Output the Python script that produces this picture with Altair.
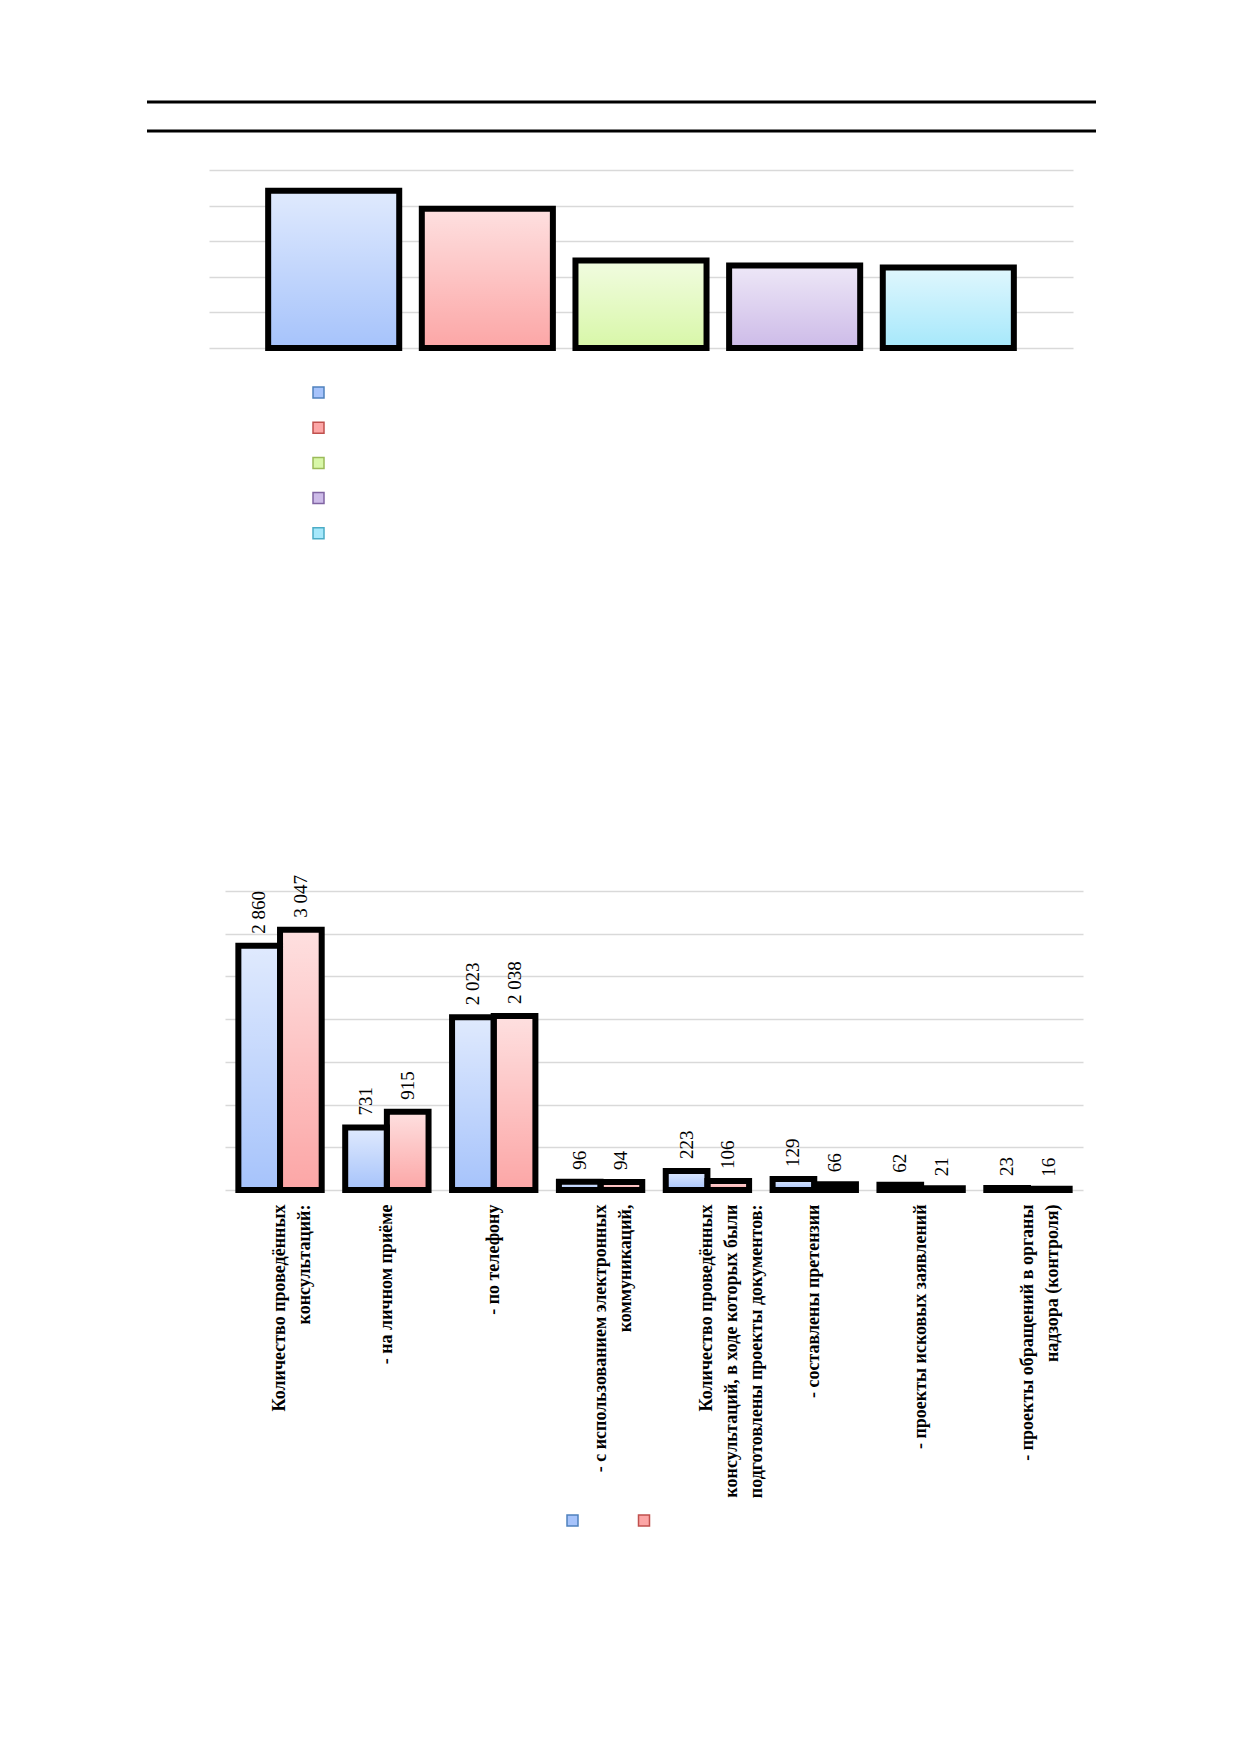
import altair as alt
import pandas as pd

# ---------------- data ----------------
# top chart (no value labels in the source, heights read from the gridlines)
top_series = ["Ряд 1", "Ряд 2", "Ряд 3", "Ряд 4", "Ряд 5"]
top_values = [4.42, 3.91, 2.46, 2.32, 2.26]
top_grid = [0, 1, 2, 3, 4, 5]

# bottom chart
categories = [
    "Количество проведённых|консультаций:",
    "- на личном приёме",
    "- по телефону",
    "- с использованием электронных|коммуникаций,",
    "Количество проведённых|консультаций, в ходе которых были|подготовлены проекты документов:",
    "- составлены претензии",
    "- проекты исковых  заявлений",
    "- проекты обращений в органы|надзора (контроля)",
]
series_names = ["Серия 1", "Серия 2"]
values_1 = [2860, 731, 2023, 96, 223, 129, 62, 23]
values_2 = [3047, 915, 2038, 94, 106, 66, 21, 16]
bottom_grid = [0, 500, 1000, 1500, 2000, 2500, 3000, 3500]

# colours
top_fill = ["#a6c3fb", "#fca6a6", "#d8f7a8", "#cdbbe8", "#a6e8fb"]
top_edge = ["#4f81bd", "#c0504d", "#9bbb59", "#8064a2", "#4bacc6"]
bottom_fill = ["#a6c3fb", "#fca6a6"]
bottom_edge = ["#4f81bd", "#c0504d"]
GRID = "#d9d9d9"


def centre_lines(label):
    # lines of a wrapped label are centred on each other (pad with no-break spaces)
    lines = label.split("|")
    m = max(len(s) for s in lines)
    return "|".join(s + "\u00a0" * (m - len(s)) for s in lines)


category_labels = [centre_lines(c) for c in categories]

shine = alt.Gradient(
    gradient="linear",
    stops=[
        alt.GradientStop(color="rgba(255,255,255,0.65)", offset=0),
        alt.GradientStop(color="rgba(255,255,255,0)", offset=1),
    ],
    x1=0, x2=0, y1=0, y2=1,
)

# ---------------- decorative double rule ----------------
rules_df = pd.DataFrame({"k": [0, 1]})
rules = (
    alt.Chart(rules_df)
    .mark_rule(color="black", strokeWidth=3)
    .encode(
        y=alt.Y("k:Q", scale=alt.Scale(domain=[0, 1]), axis=None),
        x=alt.value(-62),
        x2=alt.value(887),
    )
    .properties(width=864, height=29)
)

# ---------------- top chart ----------------
dtop = pd.DataFrame({"series": top_series, "value": top_values})
xt = alt.X("series:N", sort=top_series,
           scale=alt.Scale(paddingInner=0.147, paddingOuter=0.385), axis=None)
yt = alt.Y("value:Q", scale=alt.Scale(domain=[0, 5], nice=False),
           axis=alt.Axis(values=top_grid, grid=True, labels=False, ticks=False,
                         domain=False, title=None, minExtent=0, maxExtent=0,
                         gridColor=GRID, gridWidth=1.5))
leg_top = alt.Legend(title=None, orient="none", legendX=103, legendY=216,
                     direction="vertical", symbolType="square", symbolSize=121,
                     symbolStrokeWidth=1.5, symbolOpacity=1, labelExpr="''",
                     labelFontSize=10, labelOffset=0, rowPadding=18.2, padding=0)

t_base = alt.Chart(dtop).mark_bar(strokeWidth=0).encode(
    x=xt, y=yt,
    fill=alt.Fill("series:N", scale=alt.Scale(domain=top_series, range=top_fill), legend=leg_top),
    stroke=alt.Stroke("series:N", scale=alt.Scale(domain=top_series, range=top_edge), legend=leg_top),
)
t_shine = alt.Chart(dtop).mark_bar(fill=shine, strokeWidth=0).encode(x=xt, y=yt)
t_frame = alt.Chart(dtop).mark_bar(fillOpacity=0, stroke="black", strokeWidth=6).encode(x=xt, y=yt)
top = alt.layer(t_base, t_shine, t_frame).properties(width=864, height=178)

# ---------------- bottom chart ----------------
dbot = pd.DataFrame({
    "category": category_labels * 2,
    "series": [series_names[0]] * len(categories) + [series_names[1]] * len(categories),
    "value": values_1 + values_2,
})
xb = alt.X("category:N", sort=category_labels,
           scale=alt.Scale(paddingInner=0.22, paddingOuter=0.125),
           axis=alt.Axis(title=None, domain=False, ticks=False, grid=False,
                         labelAngle=270, labelAlign="right", labelBaseline="middle",
                         labelPadding=14, labelFont="Liberation Serif",
                         labelFontWeight="bold", labelFontSize=18, labelColor="black",
                         labelLimit=0, labelLineHeight=25, labelOverlap=False,
                         labelExpr="split(datum.label, '|')"))
xo = alt.XOffset("series:N", sort=series_names,
                 scale=alt.Scale(paddingInner=0, paddingOuter=0))
yb = alt.Y("value:Q", scale=alt.Scale(domain=[0, 3500], nice=False),
           axis=alt.Axis(values=bottom_grid, grid=True, labels=False, ticks=False,
                         domain=False, title=None, minExtent=0, maxExtent=0,
                         gridColor=GRID, gridWidth=1.5))
leg_bot = alt.Legend(title=None, orient="none", legendX=341, legendY=623,
                     direction="horizontal", symbolType="square", symbolSize=121,
                     symbolStrokeWidth=1.5, symbolOpacity=1, labelExpr="''",
                     labelFontSize=10, labelOffset=0, columnPadding=54.5, padding=0)

b_base = alt.Chart(dbot).mark_bar(strokeWidth=0).encode(
    x=xb, xOffset=xo, y=yb,
    fill=alt.Fill("series:N", scale=alt.Scale(domain=series_names, range=bottom_fill), legend=leg_bot),
    stroke=alt.Stroke("series:N", scale=alt.Scale(domain=series_names, range=bottom_edge), legend=leg_bot),
)
b_shine = alt.Chart(dbot).mark_bar(fill=shine, strokeWidth=0).encode(x=xb, xOffset=xo, y=yb)
b_frame = alt.Chart(dbot).mark_bar(fillOpacity=0, stroke="black", strokeWidth=6).encode(
    x=xb, xOffset=xo, y=yb)
b_text = (
    alt.Chart(dbot)
    .transform_calculate(label="replace(format(datum.value, ','), ',', ' ')")
    .mark_text(angle=270, align="left", baseline="middle", dx=12,
               font="Liberation Serif", fontSize=19, color="black")
    .encode(x=xb, xOffset=xo, y=yb, text="label:N")
)
bottom = alt.layer(b_base, b_shine, b_frame, b_text).properties(width=858, height=299)

# empty spacer that shifts the lower chart to the right
spacer = (
    alt.Chart(pd.DataFrame({"a": [0]}))
    .mark_point(opacity=0, size=1)
    .encode(x=alt.value(0), y=alt.value(0))
    .properties(width=16, height=10)
)

# ---------------- layout ----------------
lower_row = (
    alt.hconcat(spacer, bottom, spacing=0)
    .resolve_scale(fill="independent", stroke="independent")
    .resolve_legend(fill="independent", stroke="independent")
)
lower = (
    alt.vconcat(top, lower_row, spacing=332)
    .resolve_scale(fill="independent", stroke="independent")
    .resolve_legend(fill="independent", stroke="independent")
)
chart = (
    alt.vconcat(rules, lower, spacing=37)
    .resolve_scale(fill="independent", stroke="independent")
    .resolve_legend(fill="independent", stroke="independent")
    .properties(padding={"left": 137, "top": 92, "right": 5, "bottom": 5})
    .configure_view(strokeWidth=0)
)

chart.save("out.html", embed_options={"renderer": "svg", "actions": False})
